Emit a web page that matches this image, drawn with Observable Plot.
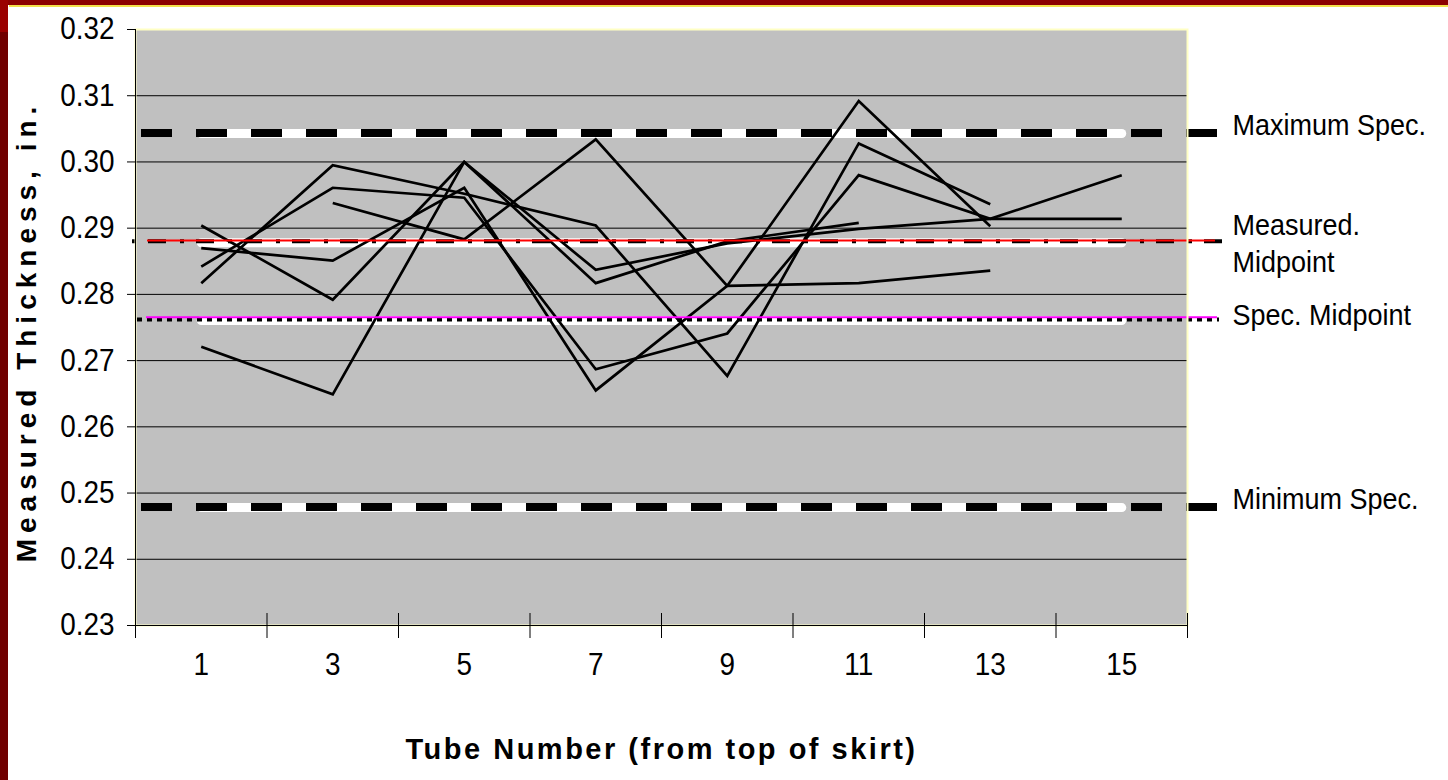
<!DOCTYPE html>
<html>
<head>
<meta charset="utf-8">
<script src="https://cdn.jsdelivr.net/npm/d3@7"></script>
<script src="https://cdn.jsdelivr.net/npm/@observablehq/plot@0.6"></script>
<style>
html,body{margin:0;padding:0;background:#fff;overflow:hidden;}
#wrap{position:relative;width:1448px;height:780px;}
#wrap svg{position:absolute;left:0;top:0;}
.bd{position:absolute;}
</style>
</head>
<body>
<div id="wrap"></div>
<script>
// ---- data ----
const tubes = [1, 3, 5, 7, 9, 11, 13, 15];
const seriesNames = ["Skirt A", "Skirt B", "Skirt C", "Skirt D", "Skirt E", "Skirt F"];
const skirtA = [0.2721, 0.2649, 0.3000, 0.2837, 0.2877, 0.2899, 0.2914, 0.2914];
const skirtB = [0.2904, 0.2792, 0.3000, 0.2817, 0.2880, 0.2908, null, null];
const skirtC = [0.2870, 0.2851, 0.2961, 0.2655, 0.2813, 0.3092, 0.2903, null];
const skirtD = [0.2842, 0.2961, 0.2946, 0.2687, 0.2741, 0.2980, 0.2914, 0.2980];
const skirtE = [0.2817, 0.2995, 0.2952, 0.2904, 0.2677, 0.3028, 0.2936, null];
const skirtF = [null, 0.2938, 0.2883, 0.3034, 0.2813, 0.2817, 0.2836, null];

const maxSpec = 0.3043;
const minSpec = 0.2478;
const specMid = 0.27605;
const measuredMid = 0.2878;

const yTicks = [0.23, 0.24, 0.25, 0.26, 0.27, 0.28, 0.29, 0.30, 0.31, 0.32];
const yGrid = [0.24, 0.25, 0.26, 0.27, 0.28, 0.29, 0.30, 0.31];
const xTickLabels = [1, 3, 5, 7, 9, 11, 13, 15];
const xBoundaries = [0, 2, 4, 6, 8, 10, 12, 14, 16];
const xTitle = "Tube Number (from top of skirt)";
const yTitle = "Measured Thickness, in.";
const refNames = ["Maximum Spec.", "Measured.\nMidpoint", "Spec. Midpoint", "Minimum Spec."];

// ---- tables built from the arrays ----
const allSeries = [skirtA, skirtB, skirtC, skirtD, skirtE, skirtF];
const rows = allSeries.flatMap((vals, s) =>
  tubes.map((t, i) => ({series: seriesNames[s], tube: t, value: vals[i]})));
const refValues = [maxSpec, measuredMid, specMid, minSpec];
const whiteRows = refValues.flatMap((v, k) =>
  [tubes[0], tubes[tubes.length - 1]].map(t => ({ref: refNames[k], tube: t, value: v})));

const font = "'Liberation Sans', Arial, Helvetica, sans-serif";
const fmt = d3.format(".2f");

const chart = Plot.plot({
  width: 1448,
  height: 780,
  marginLeft: 135,
  marginRight: 261,
  marginTop: 29,
  marginBottom: 155,
  style: {fontFamily: font, background: "transparent", overflow: "visible", color: "black"},
  x: {domain: [0, 16], axis: null},
  y: {domain: [0.23, 0.32], axis: null},
  marks: [
    Plot.frame({fill: "#c0c0c0"}),
    Plot.ruleY(yGrid, {stroke: "black", strokeWidth: 1}),
    // white constant reference series (tube 1 .. 15)
    Plot.line(whiteRows, {x: "tube", y: "value", z: "ref", stroke: "white", strokeWidth: 9, strokeLinecap: "round"}),
    // measured data
    Plot.line(rows, {x: "tube", y: "value", z: "series", stroke: "black", strokeWidth: 2.7,
      strokeLinecap: "butt", strokeLinejoin: "miter", strokeMiterlimit: 4}),
    // drawn reference lines
    Plot.ruleY([maxSpec, minSpec], {stroke: "black", strokeWidth: 8, strokeDasharray: "31,24",
      insetLeft: 6, insetRight: -31, dy: -0.5}),
    Plot.ruleY([measuredMid], {stroke: "black", strokeWidth: 4, strokeDasharray: "4,12,18,14",
      insetLeft: -3, insetRight: -37, dy: -1.5}),
    Plot.ruleY([measuredMid], {stroke: "#ff0000", strokeWidth: 2, insetLeft: 12, insetRight: -28, dy: -2.2}),
    Plot.ruleY([specMid], {stroke: "black", strokeWidth: 4, strokeDasharray: "5,5",
      insetLeft: 2, insetRight: -32, dy: -1}),
    Plot.ruleY([specMid], {stroke: "#ff00ff", strokeWidth: 2, insetLeft: 11, insetRight: -30, dy: -3.3}),
    // plot area border and axes
    Plot.frame({stroke: "#ffffc4", strokeWidth: 2}),
    Plot.ruleX([0], {stroke: "black", strokeWidth: 1}),
    Plot.ruleY([0.23], {stroke: "black", strokeWidth: 1}),
    Plot.ruleY(yTicks, {x1: 0, x2: 0, insetLeft: -8, stroke: "black", strokeWidth: 1}),
    Plot.tickX(xBoundaries, {x: d => d, insetTop: 584, insetBottom: -13, stroke: "black", strokeWidth: 1}),
    // tick labels
    Plot.text(yTicks, {y: d => d, frameAnchor: "left", dx: -21, textAnchor: "end",
      text: d => fmt(d), fontSize: 31}),
    Plot.text(xTickLabels, {x: d => d, frameAnchor: "bottom", dy: 49, textAnchor: "middle",
      text: d => String(d), fontSize: 31}),
    // right-hand labels
    Plot.text([refNames[0]], {y: () => maxSpec, frameAnchor: "right", dx: 45, dy: -8, textAnchor: "start",
      fontSize: 30}),
    Plot.text([refNames[1]], {y: () => measuredMid, frameAnchor: "right", dx: 45, dy: -1, textAnchor: "start",
      fontSize: 30, lineHeight: 1.25}),
    Plot.text([refNames[2]], {y: () => specMid, frameAnchor: "right", dx: 45, dy: -5, textAnchor: "start",
      fontSize: 30}),
    Plot.text([refNames[3]], {y: () => minSpec, frameAnchor: "right", dx: 45, dy: -8, textAnchor: "start",
      fontSize: 30}),
    // axis titles
    Plot.text([xTitle], {frameAnchor: "bottom", dy: 133, textAnchor: "middle", fontSize: 29, fontWeight: "bold"}),
    Plot.text([yTitle], {frameAnchor: "left", dx: -108, dy: 4, rotate: -90, textAnchor: "middle",
      fontSize: 28, fontWeight: "bold"})
  ]
});

// condensed look of the original lettering, and the spaced-out bold titles
const condensed = new Set([
  ...yTicks.map(fmt), ...xTickLabels.map(String), ...refNames.map(s => s.replace("\n", ""))
]);
d3.select(chart).selectAll("text").each(function () {
  const s = this.textContent;
  if (condensed.has(s)) {
    const t = this.getAttribute("transform") || "";
    this.setAttribute("transform", t + " scale(0.9,1)");
  } else if (s === yTitle) {
    this.style.letterSpacing = "6px";
  } else if (s === xTitle) {
    this.style.letterSpacing = "2.5px";
  }
});

const wrap = document.getElementById("wrap");
wrap.appendChild(chart);

// maroon page border
const borders = [
  {left: 0, top: 0, width: 1448, height: 5, background: "#8b0000"},
  {left: 9, top: 5, width: 1439, height: 2, background: "#f2e04a"},
  {left: 0, top: 0, width: 8, height: 32, background: "#9a0000"},
  {left: 0, top: 32, width: 8, height: 748, background: "#700000"}
];
for (const b of borders) {
  const d = document.createElement("div");
  d.className = "bd";
  Object.assign(d.style, {left: b.left + "px", top: b.top + "px", width: b.width + "px", height: b.height + "px", background: b.background});
  wrap.appendChild(d);
}
</script>
</body>
</html>
